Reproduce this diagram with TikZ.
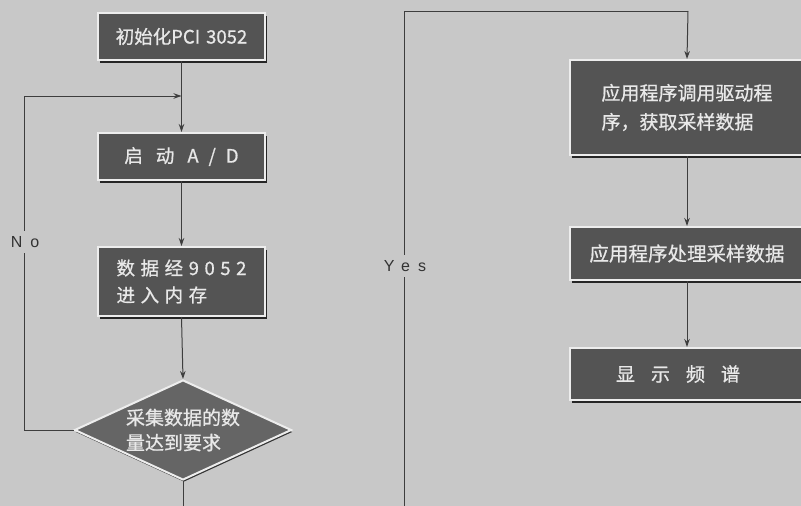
\documentclass[tikz,border=0pt]{standalone}
\usepackage{fontspec}
\setmainfont{Noto Sans CJK SC}
\newfontfamily\cjk[FakeBold=0.8]{Noto Sans CJK SC}
\newfontfamily\cjksp[LetterSpace=30,FakeBold=0.8]{Noto Sans CJK SC}
\newfontfamily\latsp[LetterSpace=50]{Liberation Sans}
\usetikzlibrary{shapes.geometric,shadows,arrows.meta}
\definecolor{bg}{HTML}{C8C8C8}
\definecolor{boxfill}{HTML}{545454}
\definecolor{txt}{HTML}{E8E8E8}
\definecolor{ln}{HTML}{3E3E3E}
\tikzset{
  shbox/.style={rectangle, fill=boxfill, draw=white!93!black, line width=2pt,
    text=txt, font=\cjk\fontsize{18.5}{27}\selectfont, align=left, inner sep=0pt,
    drop shadow={shadow xshift=1.5pt, shadow yshift=-2.5pt, fill=black!85, opacity=1}},
  shdia/.style={diamond, aspect=2.17, fill=boxfill!90!white, draw=white!93!black, line width=2pt,
    text=txt, font=\cjk\fontsize{19}{25}\selectfont, align=left, inner sep=0pt,
    minimum width=217pt, minimum height=100pt,
    drop shadow={shadow xshift=1pt, shadow yshift=-2pt, fill=black!80, opacity=1}},
  conn/.style={draw=ln, line width=1pt},
  arr/.style={conn, -{Stealth[length=8pt,width=5.5pt]}},
  lbl/.style={fill=bg, text=black!80, font=\latsp\fontsize{16}{16}\selectfont, inner sep=5pt}
}
\begin{document}
\begin{tikzpicture}[x=1pt,y=-1pt]
\useasboundingbox (0,0) rectangle (801,506);
\fill[bg] (0,0) rectangle (801,506);
\clip (0,0) rectangle (801,506);

% left column
\node[shbox, minimum width=167pt, minimum height=47pt] (init) at (181.5,36.5) {初始化PCI\hspace{6pt}3052};
\node[shbox, minimum width=167pt, minimum height=47pt] (start) at (181.5,156.5) {启\hspace{13pt}动\hspace{13pt}A\hspace{10pt}/\hspace{10pt}D};
\node[shbox, minimum width=167pt, minimum height=69pt] (mem) at (181.5,281.5) {\cjksp 数据经9052\\\cjksp 进入内存};
\node[shdia] (dec) at (183,430) {采集数据的数\\量达到要求};

% right column
\node[shbox, minimum width=234pt, minimum height=95pt, font=\cjk\fontsize{19}{29}\selectfont] (drv) at (687,107.5) {应用程序调用驱动程\\序，获取采样数据};
\node[shbox, minimum width=234pt, minimum height=53pt, font=\cjk\fontsize{19.5}{24}\selectfont] (proc) at (687,253.5) {应用程序处理采样数据};
\node[shbox, minimum width=234pt, minimum height=52pt, font=\cjk\fontsize{19}{24}\selectfont] (disp) at (687,374) {显\hspace{16pt}示\hspace{16pt}频\hspace{16pt}谱\hspace{18pt}};

\coordinate (join) at (181.5,96);
\coordinate (nol) at (24,430);
\coordinate (nou) at (24,96);
\coordinate (bot) at (183,520);
\coordinate (botr) at (404,520);
\coordinate (yu) at (404,11);
\coordinate (yr) at (688,11);

% connectors
\draw[arr] (init.south) -- (start.north);
\draw[arr] (start.south) -- (mem.north);
\draw[arr] (mem.south) -- (dec.north);
\draw[arr] (dec.west) -- (nol) -- (nou) -- (join);
\draw[conn] (dec.south) -- (bot) -- (botr) -- (yu) -- (yr);
\draw[arr] (yr) -- (drv.north);
\draw[arr] (drv.south) -- (proc.north);
\draw[arr] (proc.south) -- (disp.north);

% labels
\node[lbl] (no) at (25,242) {No};
\node[lbl] (yes) at (405,266) {Yes};
\end{tikzpicture}
\end{document}
